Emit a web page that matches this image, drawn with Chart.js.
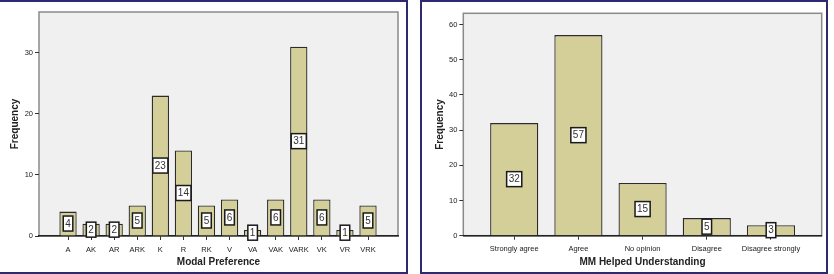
<!DOCTYPE html>
<html>
<head>
<meta charset="utf-8">
<script src="https://cdn.jsdelivr.net/npm/chart.js@4"></script>
<style>
    body { margin: 0; background: #fff; }
    #wrap { position: relative; width: 834px; height: 274px; overflow: hidden; }
    canvas { position: absolute; top: 0; }
    .panel { position: absolute; top: 0; height: 274px; box-sizing: border-box; border: 2px solid #2d2a72; pointer-events: none; }
</style>
</head>
<body>
<div id="wrap">
    <canvas id="modalChart" width="408" height="274" style="left:0"></canvas>
    <canvas id="mmChart" width="417" height="274" style="left:417px"></canvas>
    <div class="panel" style="left:-3px; width:411px"></div>
    <div class="panel" style="left:420px; width:408px"></div>
</div>
<script>
// Modal preference counts
const modalCategories = ['A', 'AK', 'AR', 'ARK', 'K', 'R', 'RK', 'V', 'VA', 'VAK', 'VARK', 'VK', 'VR', 'VRK'];
const modalValues = [4, 2, 2, 5, 23, 14, 5, 6, 1, 6, 31, 6, 1, 5];
const modalTicks = [0, 10, 20, 30];

// MM helped understanding counts
const mmCategories = ['Strongly agree', 'Agree', 'No opinion', 'Disagree', 'Disagree strongly'];
const mmValues = [32, 57, 15, 5, 3];
const mmTicks = [0, 10, 20, 30, 40, 50, 60];

const FONT = '"Liberation Sans", Arial, sans-serif';

// grey plot background with frame
const framePlugin = {
    id: 'frame',
    beforeDraw(chart) {
        const { ctx, chartArea: a } = chart;
        ctx.save();
        ctx.fillStyle = '#f0f0f0';
        ctx.fillRect(a.left, a.top, a.right - a.left, a.bottom - a.top);
        ctx.strokeStyle = '#8a8a8a';
        ctx.lineWidth = 1.5;
        ctx.strokeRect(a.left, a.top, a.right - a.left, a.bottom - a.top);
        ctx.restore();
    }
};

// white value boxes in the middle of each bar
const boxLabels = {
    id: 'boxLabels',
    afterDatasetsDraw(chart) {
        const ctx = chart.ctx;
        const meta = chart.getDatasetMeta(0);
        ctx.save();
        ctx.font = '10px ' + FONT;
        ctx.textAlign = 'center';
        ctx.textBaseline = 'middle';
        meta.data.forEach((bar, i) => {
            const txt = String(chart.data.datasets[0].data[i].y);
            const cy = (bar.y + bar.base) / 2;
            const w = ctx.measureText(txt).width + 4;
            const h = 15;
            ctx.fillStyle = '#fff';
            ctx.fillRect(bar.x - w / 2, cy - h / 2, w, h);
            ctx.strokeStyle = '#1a1a1a';
            ctx.lineWidth = 1.5;
            ctx.strokeRect(bar.x - w / 2, cy - h / 2, w, h);
            ctx.fillStyle = '#333';
            ctx.fillText(txt, bar.x, cy + 0.5);
        });
        ctx.restore();
    }
};

function makeChart(id, cats, values, yTicks, opts) {
    const ctx = document.getElementById(id).getContext('2d');
    return new Chart(ctx, {
        type: 'bar',
        data: {
            datasets: [{
                data: values.map((v, i) => ({ x: i, y: v })),
                backgroundColor: '#d4ce98',
                borderColor: '#2b2b2b',
                borderWidth: 1.3,
                categoryPercentage: 1,
                barPercentage: 0.75
            }]
        },
        options: {
            responsive: false,
            animation: false,
            devicePixelRatio: 1,
            layout: { padding: { top: opts.top, right: opts.right, left: 0, bottom: 0 } },
            plugins: { legend: { display: false }, tooltip: { enabled: false } },
            scales: {
                x: {
                    type: 'linear',
                    min: opts.xMin,
                    max: opts.xMax,
                    offset: false,
                    afterFit: (scale) => { scale.height = 274 - opts.bottom; },
                    afterBuildTicks: (scale) => { scale.ticks = cats.map((c, i) => ({ value: i })); },
                    grid: { offset: false, drawOnChartArea: false, drawTicks: true, tickLength: 4, color: '#333', tickColor: '#333' },
                    border: { display: true, color: '#222', width: 1.5 },
                    ticks: {
                        autoSkip: false,
                        maxRotation: 0,
                        padding: 5,
                        color: '#1a1a1a',
                        font: { family: FONT, size: 7.5 },
                        callback: (v) => cats[v]
                    },
                    title: {
                        display: true,
                        text: opts.xTitle,
                        color: '#222',
                        font: { family: FONT, size: 10, weight: 'bold' },
                        padding: { top: 0, bottom: 6 }
                    }
                },
                y: {
                    min: 0,
                    max: opts.yMax,
                    afterFit: (scale) => { scale.width = opts.left; },
                    afterBuildTicks: (scale) => { scale.ticks = yTicks.map(v => ({ value: v })); },
                    grid: { drawOnChartArea: false, drawTicks: true, tickLength: 4, color: '#333', tickColor: '#333' },
                    border: { display: false },
                    ticks: {
                        padding: 2,
                        color: '#1a1a1a',
                        font: { family: FONT, size: 7.5 }
                    },
                    title: {
                        display: true,
                        text: 'Frequency',
                        color: '#222',
                        font: { family: FONT, size: 10, weight: 'bold' },
                        padding: { top: opts.yTitlePad, bottom: 0 }
                    }
                }
            }
        },
        plugins: [framePlugin, boxLabels]
    });
}

makeChart('modalChart', modalCategories, modalValues, modalTicks, {
    top: 12, right: 10, left: 39, bottom: 236,
    xMin: -1.258, xMax: 14.3, yMax: 36.7,
    xTitle: 'Modal Preference', yTitlePad: 9
});

makeChart('mmChart', mmCategories, mmValues, mmTicks, {
    top: 13.3, right: 12.3, left: 46.3, bottom: 235.7,
    xMin: -0.793, xMax: 4.79, yMax: 63.2,
    xTitle: 'MM Helped Understanding', yTitlePad: 17
});
</script>
</body>
</html>
